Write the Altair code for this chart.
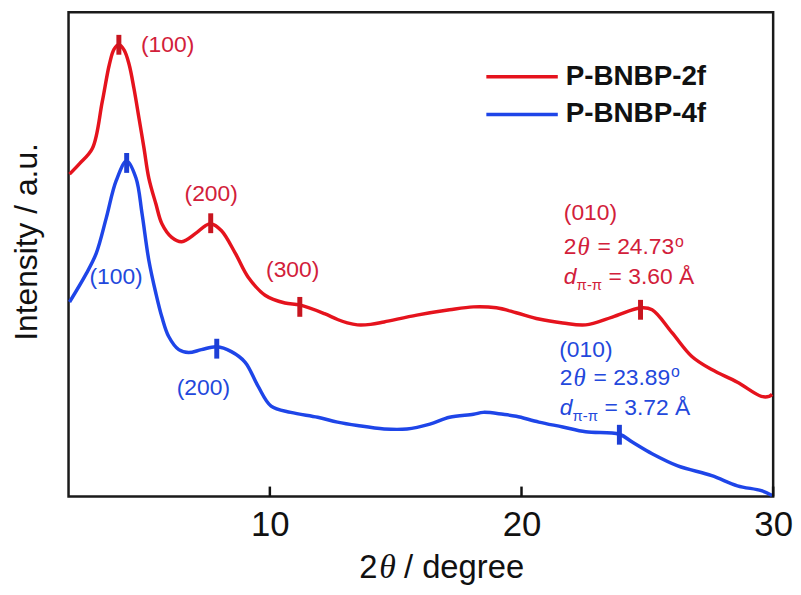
import altair as alt
import pandas as pd

# ---------------- data ----------------
series_names = ["P-BNBP-2f", "P-BNBP-4f"]

red_x = [2.04, 2.43, 2.95, 3.34, 3.62, 3.81, 4.00, 4.21, 4.41, 4.60, 4.80, 5.00, 5.19, 5.47,
         5.71, 6.10, 6.50, 7.05, 7.44, 7.65, 8.07, 8.63, 9.14, 9.81, 10.60, 11.19, 12.17, 12.69,
         13.08, 13.48, 14.00, 14.54, 15.84, 17.14, 18.09, 19.00, 19.79, 20.69, 21.64, 22.55,
         23.61, 24.75, 25.19, 25.98, 26.77, 27.56, 28.58, 29.53, 29.84, 29.96]
red_y = [66.3, 68.4, 71.6, 81.2, 88.8, 92.0, 92.9, 91.8, 88.8, 83.9, 77.8, 71.6, 65.5, 60.2,
         56.1, 53.3, 52.4, 54.1, 55.7, 56.1, 54.7, 50.0, 45.1, 41.4, 39.8, 39.4, 37.6, 36.4,
         35.7, 35.3, 35.4, 35.9, 37.3, 38.4, 39.0, 38.8, 37.8, 36.5, 35.7, 35.3,
         36.9, 38.8, 38.4, 33.7, 28.8, 26.1, 23.5, 20.6, 20.6, 21.0]

blue_x = [2.04, 2.71, 3.10, 3.50, 3.89, 4.31, 4.68, 4.92, 5.19, 5.47, 5.71, 5.98, 6.38, 6.77,
          7.28, 7.89, 8.47, 9.02, 9.53, 10.05, 10.83, 11.90, 12.69, 13.48, 14.54, 15.45, 16.36,
          17.14, 18.09, 18.48, 19.27, 19.79, 20.69, 21.64, 22.55, 23.89, 24.40, 25.19, 26.21,
          27.56, 28.58, 29.53, 29.96]
blue_y = [40.0, 45.9, 50.0, 57.3, 64.9, 69.0, 65.5, 58.2, 48.6, 41.8, 36.9, 32.9, 30.2, 29.6,
          30.2, 30.8, 29.8, 27.6, 22.7, 18.6, 17.3, 16.3, 15.3, 14.6, 13.9, 13.9, 14.9,
          16.3, 16.9, 17.3, 16.9, 16.5, 15.3, 14.3, 13.3, 12.8, 11.2, 8.8, 6.3,
          4.3, 2.2, 1.2, 0.2]

# peak markers
peak_series = [series_names[0]] * 4 + [series_names[1]] * 3
peak_x = [4.00, 7.65, 11.19, 24.73, 4.31, 7.89, 23.89]
peak_y = [92.9, 56.2, 39.0, 38.4, 68.6, 30.4, 12.7]

x_ticks = [10, 20, 30]

# annotation text pieces: (series index, kind, text, x, y)
ann_series = [0, 0, 0, 0, 0, 0, 0, 0, 0, 0, 0,
              1, 1, 1, 1, 1, 1, 1, 1, 1, 1]
ann_kind = ["label", "label", "label", "label", "label", "label", "label", "theta", "d", "sub", "sup",
            "label", "label", "label", "label", "label", "label", "theta", "d", "sub", "sup"]
ann_text = ["(100)", "(200)", "(300)", "(010)", "2", "= 24.73", "= 3.60 Å", "θ", "d", "π-π", "o",
            "(100)", "(200)", "(010)", "2", "= 23.89", "= 3.72 Å", "θ", "d", "π-π", "o"]
ann_x = [4.88, 6.61, 9.85, 21.68, 21.68, 23.02, 23.46, 22.23, 21.68, 22.19, 26.10,
         2.83, 6.30, 21.50, 21.52, 22.86, 23.30, 22.07, 21.52, 22.03, 25.94]
ann_y = [92.9, 62.2, 46.5, 58.2, 51.2, 51.2, 45.1, 51.2, 45.1, 43.5, 52.3,
         45.1, 22.4, 30.2, 24.3, 24.3, 18.2, 24.3, 18.2, 16.5, 25.6]

# x-axis title pieces
xtitle_text = ["2", "θ", "/ degree"]

# ---------------- styling ----------------
line_colors = ["#e5131d", "#1e45e8"]
text_colors = ["#d2203a", "#2348dc"]
tick_colors = ["#c8151f", "#1d3fd6"]
FONT = "Liberation Sans"

lines_df = pd.DataFrame({
    "two_theta": red_x + blue_x,
    "intensity": red_y + blue_y,
    "series": [series_names[0]] * len(red_x) + [series_names[1]] * len(blue_x),
})
peaks_df = pd.DataFrame({"two_theta": peak_x, "intensity": peak_y, "series": peak_series})
ann_df = pd.DataFrame({
    "series": [series_names[i] for i in ann_series],
    "kind": ann_kind, "label": ann_text, "two_theta": ann_x, "intensity": ann_y,
})
ticks_df = pd.DataFrame({"two_theta": x_ticks})

x_scale = alt.Scale(domain=[2, 30], nice=False, zero=False)
y_scale = alt.Scale(domain=[0, 99.6], nice=False, zero=False)

x_axis = alt.Axis(values=x_ticks, format="d", ticks=False, tickSize=0, domain=False, grid=False,
                  labelFont=FONT, labelFontSize=35, labelColor="#111", labelBaseline="alphabetic",
                  labelPadding=39, labelFlush=False, title=None)
y_axis = alt.Axis(labels=False, ticks=False, domain=False, grid=False,
                  title="Intensity / a.u.", titleFont=FONT, titleFontSize=32, titleFontWeight="normal",
                  titleColor="#111", titleX=-42, titleY=231, titleAngle=270,
                  titleBaseline="middle", titleAlign="center")

X = alt.X("two_theta:Q", scale=x_scale, axis=x_axis)
Y = alt.Y("intensity:Q", scale=y_scale, axis=y_axis)

lines = alt.Chart(lines_df).mark_line(strokeWidth=3.5, interpolate="catmull-rom").encode(
    x=X, y=Y,
    color=alt.Color("series:N", scale=alt.Scale(domain=series_names, range=line_colors), legend=None),
)

peaks = alt.Chart(peaks_df).mark_tick(orient="vertical", size=20, thickness=5, opacity=1).encode(
    x="two_theta:Q", y="intensity:Q",
    color=alt.condition(alt.datum.series == series_names[0], alt.value(tick_colors[0]), alt.value(tick_colors[1])),
)

axis_ticks = alt.Chart(ticks_df).mark_rule(strokeWidth=2.5, color="#111").encode(
    x="two_theta:Q", y=alt.value(488), y2=alt.value(478))

txt_color = alt.condition(alt.datum.series == series_names[0], alt.value(text_colors[0]), alt.value(text_colors[1]))

def ann_layer(kind, **mark_kw):
    return alt.Chart(ann_df).transform_filter(alt.datum.kind == kind).mark_text(
        align="left", baseline="middle", **mark_kw).encode(
        x="two_theta:Q", y="intensity:Q", text="label:N", color=txt_color)

ann_label = ann_layer("label", font=FONT, fontSize=23)
ann_theta = ann_layer("theta", font="Liberation Serif", fontStyle="italic", fontSize=25)
ann_d = ann_layer("d", font=FONT, fontStyle="italic", fontSize=23)
ann_sub = ann_layer("sub", font=FONT, fontSize=15)
ann_sup = ann_layer("sup", font=FONT, fontSize=16)

# x-axis title drawn as pieces (italic theta)
title_df = pd.DataFrame({"piece": xtitle_text})
xt_layers = []
xt_pos = [293, 313, 338]
xt_font = [(FONT, "normal", 33), ("Liberation Serif", "italic", 34), (FONT, "normal", 33)]
for i, t in enumerate(xtitle_text):
    f, st, sz = xt_font[i]
    xt_layers.append(alt.Chart(title_df).transform_filter(alt.datum.piece == t).mark_text(
        align="left", baseline="alphabetic", font=f, fontStyle=st, fontSize=sz, color="#111").encode(
        x=alt.value(xt_pos[i]), y=alt.value(570), text="piece:N"))

legend_layers = []
for i, name in enumerate(series_names):
    ldf = pd.DataFrame({"series": [name]})
    yy = 65 + 38 * i
    legend_layers.append(alt.Chart(ldf).mark_rule(strokeWidth=3.5, color=line_colors[i]).encode(
        x=alt.value(421), x2=alt.value(493), y=alt.value(yy)))
    legend_layers.append(alt.Chart(ldf).mark_text(
        align="left", baseline="middle", font=FONT, fontSize=28, fontWeight="bold", color="#111").encode(
        x=alt.value(501), y=alt.value(yy), text="series:N"))

chart = alt.layer(lines, peaks, axis_ticks, ann_label, ann_theta, ann_d, ann_sub, ann_sup,
                  *xt_layers, *legend_layers).properties(
    width=710, height=488,
    autosize=alt.AutoSizeParams(type="none"),
    padding={"left": 61, "top": 2, "right": 20, "bottom": 95},
    background="white",
).configure_view(stroke="#1a1a1a", strokeWidth=2.5)

chart.save("out.html", embed_options={"renderer": "svg", "actions": False})
